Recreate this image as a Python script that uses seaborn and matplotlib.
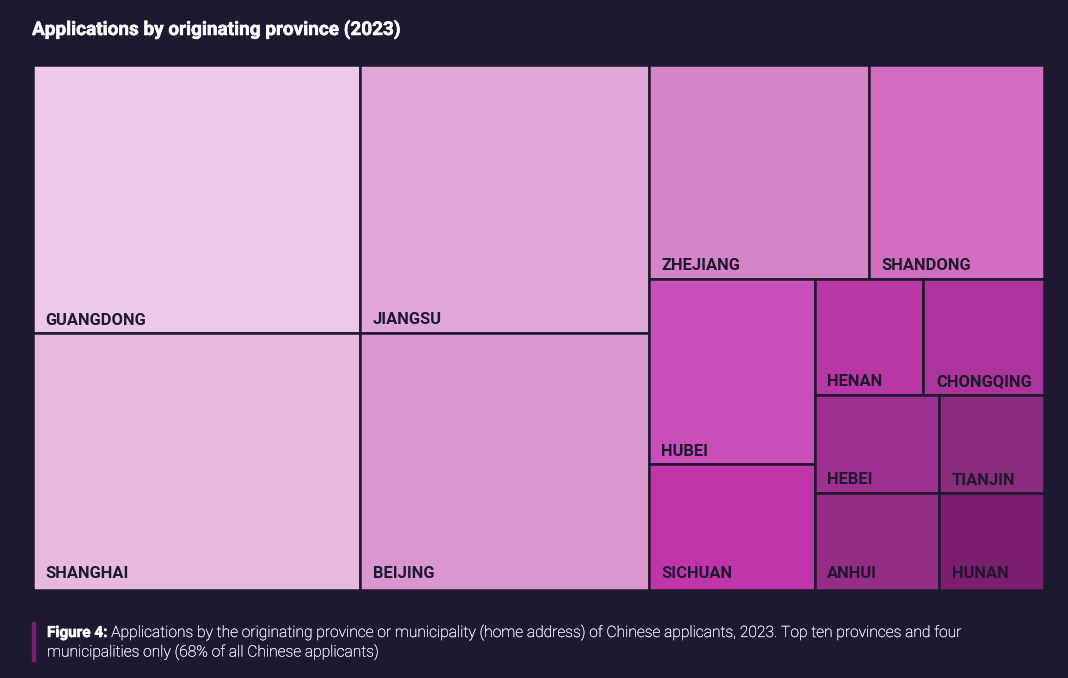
import seaborn as sns
import matplotlib.pyplot as plt
import matplotlib.patheffects as pe

provinces = ["GUANGDONG", "SHANGHAI", "JIANGSU", "BEIJING", "ZHEJIANG", "SHANDONG", "HUBEI",
             "SICHUAN", "HENAN", "CHONGQING", "HEBEI", "ANHUI", "TIANJIN", "HUNAN"]
# estimated from tile areas, the source prints no numbers
applications = [876, 837, 771, 742, 470, 372, 307, 208, 126, 139, 122, 121, 102, 101]
tile_colors = ["#ECC9E7", "#E6B9DF", "#E0A8D8", "#D996CF", "#D584C7", "#D16EC1", "#C94EB7",
               "#C034AC", "#B837A5", "#AB339B", "#A0308F", "#952D85", "#8B2B7B", "#7C1E6E"]
# how the tiles nest, splitting sideways and downwards in turn
tree = [[0, 1], [2, 3], [[4, 5], [[6, 7], [[8, 9], [[10, 11], [12, 13]]]]]]

BG = "#1E1830"
W, H = 1068, 678


def total(node):
    if isinstance(node, int):
        return applications[node]
    return sum(total(n) for n in node)


def layout(node, x, y, w, h, sideways, out):
    if isinstance(node, int):
        out.append((node, x, y, w, h))
        return
    pos = x if sideways else y + h
    for child in node:
        share = total(child) / total(node)
        if sideways:
            layout(child, pos, y, w * share, h, False, out)
            pos += w * share
        else:
            pos -= h * share
            layout(child, x, pos, w, h * share, True, out)


sns.set_theme(style="white")
plt.rcParams["font.family"] = ["Roboto", "DejaVu Sans"]

fig = plt.figure(figsize=(W / 100, H / 100), dpi=100, facecolor=BG)
ax = fig.add_axes([33 / W, 1 - 590 / H, 1010.5 / W, 525 / H])
ax.set_facecolor(BG)

tiles = []
layout(tree, 0, 0, 1, 1, True, tiles)
for i, x, y, w, h in tiles:
    ax.bar(x, h, width=w, bottom=y, align="edge", color=tile_colors[i], edgecolor=BG, linewidth=1.8)
    ax.annotate(provinces[i], (x, y), xytext=(9.15, 8.8 if y < 0.001 else 6), textcoords="offset points",
                ha="left", va="baseline", fontsize=11.9, fontweight="bold", color=BG)

ax.set_xlim(0, 1)
ax.set_ylim(0, 1)
ax.set_xticks([])
ax.set_yticks([])
sns.despine(ax=ax, left=True, bottom=True)

heavy = [pe.withStroke(linewidth=0.4, foreground="white")]
thin = [pe.withStroke(linewidth=0.2, foreground="#E4E2F0")]
fig.text(32 / W, 1 - 35 / H, "Applications by originating province (2023)", fontsize=13.65,
         fontweight="bold", color="white", va="baseline", path_effects=heavy)

# caption with its accent bar
fig.patches.append(plt.Rectangle((32 / W, 1 - 661 / H), 3 / W, 39 / H, transform=fig.transFigure,
                                 color="#7C1E6E", figure=fig))
head = fig.text(47 / W, 1 - 637 / H, "Figure 4:", fontsize=11, fontweight="bold", color="white", va="baseline",
                path_effects=heavy)
fig.canvas.draw()
end = head.get_window_extent().x1
fig.text((end + 4) / W, 1 - 637 / H,
         "Applications by the originating province or municipality (home address) of Chinese applicants, 2023. "
         "Top ten provinces and four", fontsize=11.23, fontweight="light", color="#F8F6FF", va="baseline",
         path_effects=thin)
fig.text(47 / W, 1 - 656.5 / H, "municipalities only (68% of all Chinese applicants)", fontsize=11.23,
         fontweight="light", color="#F8F6FF", va="baseline", path_effects=thin)

fig.savefig("out.png", dpi=100, facecolor=BG)
